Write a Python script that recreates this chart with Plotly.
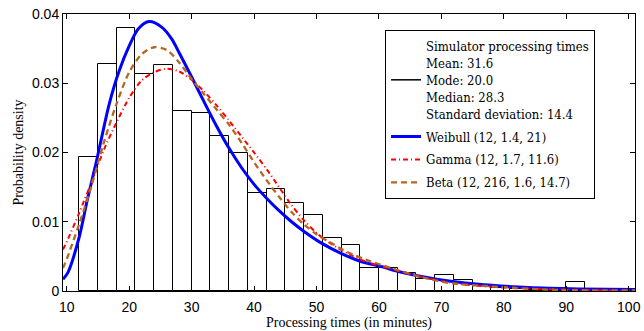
import plotly.graph_objects as go

# Histogram (bin left edges, width 3 minutes) and densities
bin_left = [12, 15, 18, 21, 24, 27, 30, 33, 36, 39, 42, 45, 48, 51, 54, 57, 60,
            63, 66, 69, 72, 75, 78, 81, 84, 87, 90, 93, 96]
bin_density = [0.0194, 0.0328, 0.0380, 0.0314, 0.0327, 0.0260, 0.0257, 0.0224,
               0.0200, 0.0141, 0.0147, 0.0127, 0.0110, 0.0077, 0.0066, 0.0033,
               0.0033, 0.0026, 0.0017, 0.0023, 0.0016, 0.0009, 0.0004, 0.0003,
               0.0002, 0.0002, 0.0013, 0.0001, 0.0001]
bin_width = 3

# Fitted curves
weibull_x = [9.4, 10.2, 12.0, 13.3, 14.7, 16.8, 18.4, 20.0, 21.5, 23.2, 25.2, 26.8,
             28.0, 30.0, 32.0, 34.0, 36.0, 38.0, 40.0, 42.0, 44.0, 46.0, 48.0, 51.0,
             54.0, 57.0, 60.5, 63.6, 69.2, 75.6, 84.0, 92.0, 101.0]
weibull_y = [0.0017, 0.0027, 0.0078, 0.0132, 0.0185, 0.0270, 0.0318, 0.0354, 0.0379,
             0.0389, 0.0381, 0.0364, 0.0344, 0.0309, 0.0273, 0.0238, 0.0206, 0.0178,
             0.0154, 0.0134, 0.0116, 0.0100, 0.0086, 0.0068, 0.0054, 0.0043, 0.0035,
             0.0027, 0.0017, 0.0010, 0.0005, 0.0003, 0.0002]

gamma_x = [9.4, 10.0, 12.0, 14.0, 16.0, 18.0, 20.0, 22.0, 24.0, 26.0, 28.0, 30.0,
           32.0, 34.0, 36.0, 38.0, 40.0, 42.0, 44.0, 46.0, 48.0, 50.0, 52.0, 55.0,
           58.0, 61.0, 64.0, 68.0, 73.0, 80.0, 90.0, 101.0]
gamma_y = [0.0060, 0.0071, 0.0113, 0.0158, 0.0205, 0.0244, 0.0279, 0.0304, 0.0316,
           0.0321, 0.0317, 0.0305, 0.0288, 0.0268, 0.0246, 0.0223, 0.0200, 0.0176,
           0.0150, 0.0124, 0.0102, 0.0084, 0.0070, 0.0054, 0.0042, 0.0034, 0.0027,
           0.0018, 0.0010, 0.0005, 0.0002, 0.00005]

beta_x = [9.4, 10.0, 12.0, 14.0, 16.0, 18.0, 20.0, 22.0, 24.0, 26.0, 28.0, 30.0,
          32.0, 34.0, 36.0, 38.0, 40.0, 42.0, 44.0, 46.0, 48.0, 50.0, 52.0, 55.0,
          58.0, 62.0, 66.0, 71.0, 79.0, 89.0, 101.0]
beta_y = [0.0033, 0.0046, 0.0097, 0.0153, 0.0216, 0.0271, 0.0316, 0.0342, 0.0352,
          0.0348, 0.0330, 0.0306, 0.0284, 0.0262, 0.0240, 0.0214, 0.0186, 0.0160,
          0.0136, 0.0114, 0.0096, 0.0082, 0.0071, 0.0056, 0.0045, 0.0033, 0.0022,
          0.0012, 0.0006, 0.00015, 0.0001]

x_ticks = [10, 20, 30, 40, 50, 60, 70, 80, 90, 100]
y_ticks = [0, 0.01, 0.02, 0.03, 0.04]
y_tick_labels = ["0", "0.01", "0.02", "0.03", "0.04"]

hist_label = ("Simulator processing times<br>Mean: 31.6<br>Mode: 20.0<br>"
              "Median: 28.3<br>Standard deviation: 14.4")

SERIF = "Liberation Serif"
LEGEND_FONT = "DejaVu Serif Condensed, Liberation Serif"
SANS = "Liberation Sans"

fig = go.Figure()

fig.add_trace(go.Bar(
    x=[b + bin_width / 2 for b in bin_left], y=bin_density, width=bin_width,
    marker=dict(color="white", line=dict(color="black", width=1)),
    showlegend=False, hoverinfo="skip"))

fig.add_trace(go.Scatter(x=[None], y=[None], mode="lines", name=hist_label,
                         line=dict(color="black", width=1.5), legendgroup="h"))

fig.add_trace(go.Scatter(x=weibull_x, y=weibull_y, mode="lines", name="Weibull (12, 1.4, 21)",
                         line=dict(color="#0000FF", width=3, shape="spline", smoothing=0.8),
                         legendgroup="w"))
fig.add_trace(go.Scatter(x=gamma_x, y=gamma_y, mode="lines", name="Gamma (12, 1.7, 11.6)",
                         line=dict(color="#FF0000", width=2, dash="5px,3px,1px,3px",
                                   shape="spline", smoothing=0.8),
                         legendgroup="g"))
fig.add_trace(go.Scatter(x=beta_x, y=beta_y, mode="lines", name="Beta (12, 216, 1.6, 14.7)",
                         line=dict(color="#B5661F", width=2.3, dash="6px,4px",
                                   shape="spline", smoothing=0.8),
                         legendgroup="b"))

fig.update_layout(
    width=644, height=331,
    margin=dict(l=63, r=3, t=14, b=40),
    plot_bgcolor="white", paper_bgcolor="white",
    bargap=0,
    font=dict(family=SERIF, size=14, color="black"),
    legend=dict(x=0.563, y=0.942, xanchor="left", yanchor="top",
                bordercolor="black", borderwidth=1, bgcolor="white",
                font=dict(family=LEGEND_FONT, size=13, color="black"),
                traceorder="grouped", tracegroupgap=3, itemwidth=30, valign="middle"),
)

fig.update_xaxes(
    range=[9.4, 101], tickvals=x_ticks, ticks="inside", ticklen=5, tickcolor="black",
    showline=True, linecolor="black", linewidth=1, mirror="ticks", showgrid=False,
    zeroline=False, tickfont=dict(family=SANS, size=14, color="black"),
    ticklabeloverflow="allow", ticklabelstandoff=3,
    title=dict(text="Processing times (in minutes)", font=dict(family=SERIF, size=14), standoff=1),
)
fig.update_yaxes(
    range=[0, 0.04], tickvals=y_ticks, ticktext=y_tick_labels, ticks="inside", ticklen=5,
    tickcolor="black", showline=True, linecolor="black", linewidth=1, mirror="ticks",
    showgrid=False, zeroline=False, tickfont=dict(family=SANS, size=14, color="black"),
    title=dict(text="Probability density", font=dict(family=SERIF, size=14), standoff=5),
)

fig.write_html("out.html")
